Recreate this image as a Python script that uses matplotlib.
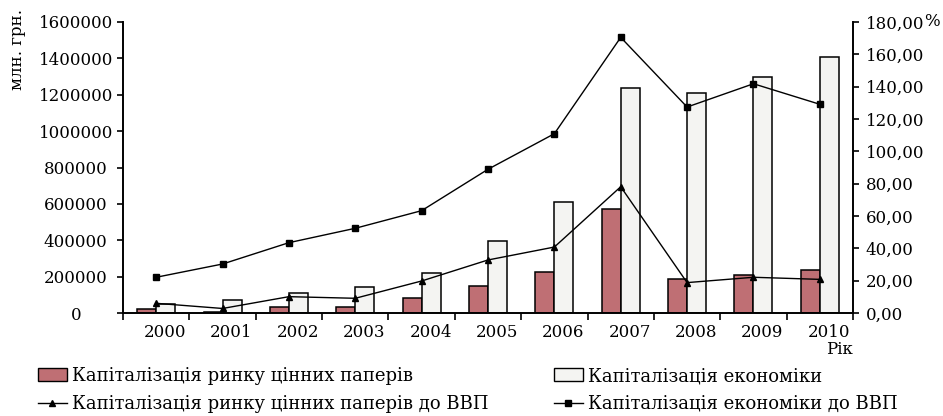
import numpy as np
import matplotlib.pyplot as plt
from matplotlib.transforms import ScaledTranslation
from matplotlib.lines import Line2D
from matplotlib.patches import Patch

# ---- data ----
years = ["2000", "2001", "2002", "2003", "2004", "2005",
         "2006", "2007", "2008", "2009", "2010"]
market_cap = [22000, 7000, 31000, 33000, 81000, 150000,
              227000, 570000, 187000, 207000, 236000]          # млн. грн.
economy_cap = [49000, 71000, 110000, 141000, 218000, 396000,
               612000, 1238000, 1207000, 1297000, 1405000]     # млн. грн.
market_gdp = [6.0, 2.8, 10.1, 9.1, 19.8, 32.8,
              40.8, 78.1, 18.8, 22.1, 20.8]                    # %
economy_gdp = [22.1, 30.3, 43.5, 52.4, 63.3, 88.9,
               110.9, 170.5, 127.4, 141.8, 129.1]              # %

left_ticks = np.arange(0, 1600001, 200000)
right_ticks = np.arange(0, 181, 20)

# ---- style ----
plt.rcParams['font.family'] = ['DejaVu Serif']
plt.rcParams['font.size'] = 12
red = "#BF6F74"
white = "#F4F4F2"

fig = plt.figure(figsize=(9.43, 4.16), dpi=100)
ax = fig.add_axes([123 / 943, 1 - 313 / 416, 730 / 943, 291 / 416])

x = np.arange(len(years))
w = 0.286
ax.bar(x, market_cap, width=-w, align='edge', color=red, edgecolor='black', linewidth=1.1)
ax.bar(x, economy_cap, width=w, align='edge', color=white, edgecolor='black', linewidth=1.1)

ax.set_xlim(-0.5, len(years) - 0.5)
ax.set_ylim(0, 1600000)
ax.set_yticks(left_ticks)
ax.set_yticklabels([str(v) for v in left_ticks])
for lab in ax.get_yticklabels():
    lab.set_ha('center')
ax.tick_params(axis='y', direction='out', length=4, width=1.2, pad=30)

# year labels sit between the tick marks, slightly right of centre
ax.set_xticks(x)
ax.set_xticklabels(years)
ax.set_xticks(np.arange(-0.5, len(years)), minor=True)
ax.tick_params(axis='x', which='major', length=0, pad=8)
ax.tick_params(axis='x', which='minor', direction='out', length=5, width=1.2)
shift = ScaledTranslation(9 / 100, 0, fig.dpi_scale_trans)
for lab in ax.get_xticklabels():
    lab.set_transform(lab.get_transform() + shift)

for s in ['top', 'right']:
    ax.spines[s].set_visible(False)
for s in ['left', 'bottom']:
    ax.spines[s].set_linewidth(1.4)

# ---- percent axis ----
ax2 = ax.twinx()
ax2.plot(x, market_gdp, color='black', linewidth=1, marker='^', markersize=4)
ax2.plot(x, economy_gdp, color='black', linewidth=1, marker='s', markersize=5)
ax2.set_ylim(0, 180)
ax2.set_yticks(right_ticks)
ax2.set_yticklabels([f"{v:.2f}".replace('.', ',') for v in right_ticks])
ax2.tick_params(axis='y', direction='out', length=4, width=1.2, pad=5)
ax2.spines['top'].set_visible(False)
ax2.spines['left'].set_visible(False)
ax2.spines['bottom'].set_visible(False)
ax2.spines['right'].set_linewidth(1.4)

# ---- axis captions ----
fig.text(18 / 943, 1 - 50 / 416, "млн. грн.", rotation=90, ha='center', va='center')
fig.text(924 / 943, 1 - 22 / 416, "%", ha='left', va='center')
fig.text(853 / 943, 1 - 350 / 416, "Рік", ha='right', va='center')

# ---- legend ----
handles = [
    Patch(facecolor=red, edgecolor='black', linewidth=1),
    Line2D([], [], color='black', linewidth=1, marker='^', markersize=4),
    Patch(facecolor=white, edgecolor='black', linewidth=1),
    Line2D([], [], color='black', linewidth=1, marker='s', markersize=4),
]
labels = [
    "Капіталізація ринку цінних паперів",
    "Капіталізація ринку цінних паперів до ВВП",
    "Капіталізація економіки",
    "Капіталізація економіки до ВВП",
]
fig.legend(handles, labels, ncol=2, loc='upper left',
           bbox_to_anchor=(38 / 943, 1 - 367 / 416), frameon=False,
           handlelength=1.6, handletextpad=0.3, columnspacing=3.6,
           labelspacing=0.55, borderpad=0, borderaxespad=0, fontsize=13)

fig.savefig("out.png", dpi=100)
